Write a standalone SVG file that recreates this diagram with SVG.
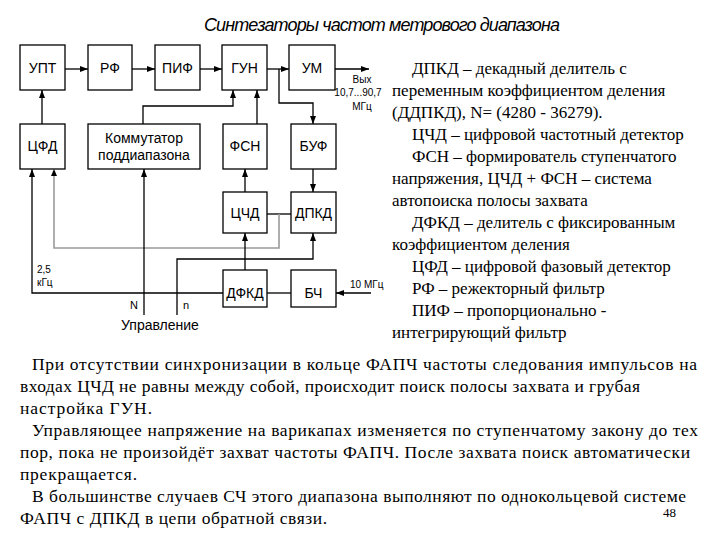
<svg xmlns="http://www.w3.org/2000/svg" width="720" height="540" viewBox="0 0 720 540">
<defs>
<marker id="ah" viewBox="0 0 8 6" refX="8" refY="3" markerWidth="8" markerHeight="6" orient="auto" markerUnits="userSpaceOnUse"><path d="M0,0 L8,3 L0,6 Z" fill="#000"/></marker>
<style>
.b{fill:#fff;stroke:#000;stroke-width:1.3}
.t{font-family:"Liberation Sans",Arial,sans-serif;font-size:14px;text-anchor:middle;fill:#000}
.s{font-family:"Liberation Sans",Arial,sans-serif;font-size:10px;fill:#000}
.c{fill:none;stroke:#000;stroke-width:1.3}
.g{fill:none;stroke:#9a9a9a;stroke-width:1.6}
.r{font-family:"Liberation Serif","Times New Roman",serif;font-size:17px;fill:#000}
.p{font-family:"Liberation Serif","Times New Roman",serif;font-size:17.5px;fill:#000}
</style>
</defs>
<rect width="720" height="540" fill="#fff"/>
<text x="204" y="31" font-family="Liberation Sans, Arial, sans-serif" font-style="italic" font-size="18" textLength="356" fill="#000">Синтезаторы частот метрового диапазона</text>

<g id="connectors">
<path class="c" d="M65,69 H88" marker-end="url(#ah)"/>
<path class="c" d="M132,69 H155" marker-end="url(#ah)"/>
<path class="c" d="M200,69 H222" marker-end="url(#ah)"/>
<path class="c" d="M267,69 H289" marker-end="url(#ah)"/>
<path class="c" d="M335,69 H369" marker-end="url(#ah)"/>
<path class="c" d="M279,69 V103 H313 V124" marker-end="url(#ah)"/>
<path class="c" d="M143,124 V106 H233 V90" marker-end="url(#ah)"/>
<path class="c" d="M257,124 V90" marker-end="url(#ah)"/>
<path class="c" d="M42,124 V90" marker-end="url(#ah)"/>
<path class="c" d="M245,192 V169" marker-end="url(#ah)"/>
<path class="c" d="M313,169 V192" marker-end="url(#ah)"/>
<path class="c" d="M267,214 H291"/>
<path class="g" d="M279,214 V248 H54 V176"/>
<path d="M54,169 L51,176 L57,176 Z" fill="#000"/>
<path class="c" d="M245,270 V233" marker-end="url(#ah)"/>
<path class="c" d="M177,315 V259 H313 V233" marker-end="url(#ah)"/>
<path class="c" d="M144,315 V169" marker-end="url(#ah)"/>
<path class="c" d="M223,293 H32 V169" marker-end="url(#ah)"/>
<path class="c" d="M267,293 H291"/>
<path class="c" d="M371,293 H336" marker-end="url(#ah)"/>
</g>

<g id="upt"><rect class="b" x="20" y="45" width="45" height="45"/><text class="t" x="42.5" y="73">УПТ</text></g>
<g id="rf"><rect class="b" x="88" y="45" width="44" height="45"/><text class="t" x="110" y="73">РФ</text></g>
<g id="pif"><rect class="b" x="155" y="45" width="45" height="45"/><text class="t" x="177.5" y="73">ПИФ</text></g>
<g id="gun"><rect class="b" x="222" y="45" width="45" height="45"/><text class="t" x="244.5" y="73">ГУН</text></g>
<g id="um"><rect class="b" x="289" y="45" width="46" height="45"/><text class="t" x="312" y="73">УМ</text></g>
<g id="cfd"><rect class="b" x="20" y="124" width="45" height="45"/><text class="t" x="42.5" y="151">ЦФД</text></g>
<g id="komm"><rect class="b" x="88" y="124" width="112" height="45"/><text class="t" x="144" y="143">Коммутатор</text><text class="t" x="144" y="160">поддиапазона</text></g>
<g id="fsn"><rect class="b" x="223" y="124" width="44" height="45"/><text class="t" x="245" y="151">ФСН</text></g>
<g id="buf"><rect class="b" x="291" y="124" width="45" height="45"/><text class="t" x="313.5" y="151">БУФ</text></g>
<g id="chd"><rect class="b" x="223" y="192" width="44" height="41"/><text class="t" x="245" y="218">ЦЧД</text></g>
<g id="dpkd"><rect class="b" x="291" y="192" width="45" height="41"/><text class="t" x="313.5" y="218">ДПКД</text></g>
<g id="dfkd"><rect class="b" x="223" y="270" width="44" height="37"/><text class="t" x="245" y="298">ДФКД</text></g>
<g id="bch"><rect class="b" x="291" y="270" width="45" height="37"/><text class="t" x="313.5" y="298">БЧ</text></g>

<g id="labels">
<text class="s" x="362" y="83" text-anchor="middle">Вых</text>
<text class="s" x="358" y="96" text-anchor="middle">10,7...90,7</text>
<text class="s" x="362" y="110" text-anchor="middle">МГц</text>
<text class="s" x="350" y="288">10 МГц</text>
<text class="s" x="37" y="273">2,5</text>
<text class="s" x="37" y="286">кГц</text>
<text class="s" x="130" y="309" style="font-size:11px">N</text>
<text class="s" x="183" y="309" style="font-size:11px">n</text>
<text class="t" x="160" y="330" style="font-size:14px">Управление</text>
</g>

<g id="legend">
<text class="r" x="412" y="74">ДПКД – декадный делитель с</text>
<text class="r" x="392" y="96">переменным коэффициентом деления</text>
<text class="r" x="392" y="118">(ДДПКД), N= (4280 - 36279).</text>
<text class="r" x="412" y="140">ЦЧД – цифровой частотный детектор</text>
<text class="r" x="412" y="162">ФСН – формирователь ступенчатого</text>
<text class="r" x="392" y="184">напряжения, ЦЧД + ФСН – система</text>
<text class="r" x="392" y="206">автопоиска полосы захвата</text>
<text class="r" x="412" y="228">ДФКД – делитель с фиксированным</text>
<text class="r" x="392" y="250">коэффициентом деления</text>
<text class="r" x="412" y="272">ЦФД – цифровой фазовый детектор</text>
<text class="r" x="412" y="294">РФ – режекторный фильтр</text>
<text class="r" x="412" y="316">ПИФ – пропорционально -</text>
<text class="r" x="392" y="338">интегрирующий фильтр</text>
</g>

<g id="body">
<text class="p" x="32" y="370" textLength="665" lengthAdjust="spacing">При отсутствии синхронизации в кольце ФАПЧ частоты следования импульсов на</text>
<text class="p" x="20" y="392" textLength="620" lengthAdjust="spacing">входах ЦЧД не равны между собой, происходит поиск полосы захвата и грубая</text>
<text class="p" x="20" y="414" textLength="132" lengthAdjust="spacing">настройка ГУН.</text>
<text class="p" x="32" y="436" textLength="666" lengthAdjust="spacing">Управляющее напряжение на варикапах изменяется по ступенчатому закону до тех</text>
<text class="p" x="20" y="458" textLength="670" lengthAdjust="spacing">пор, пока не произойдёт захват частоты ФАПЧ. После захвата поиск автоматически</text>
<text class="p" x="20" y="480" textLength="117" lengthAdjust="spacing">прекращается.</text>
<text class="p" x="32" y="502" textLength="654" lengthAdjust="spacing">В большинстве случаев СЧ этого диапазона выполняют по однокольцевой системе</text>
<text class="p" x="20" y="524" textLength="307" lengthAdjust="spacing">ФАПЧ с ДПКД в цепи обратной связи.</text>
<text class="p" x="663" y="517" style="font-size:13px">48</text>
</g>
</svg>
